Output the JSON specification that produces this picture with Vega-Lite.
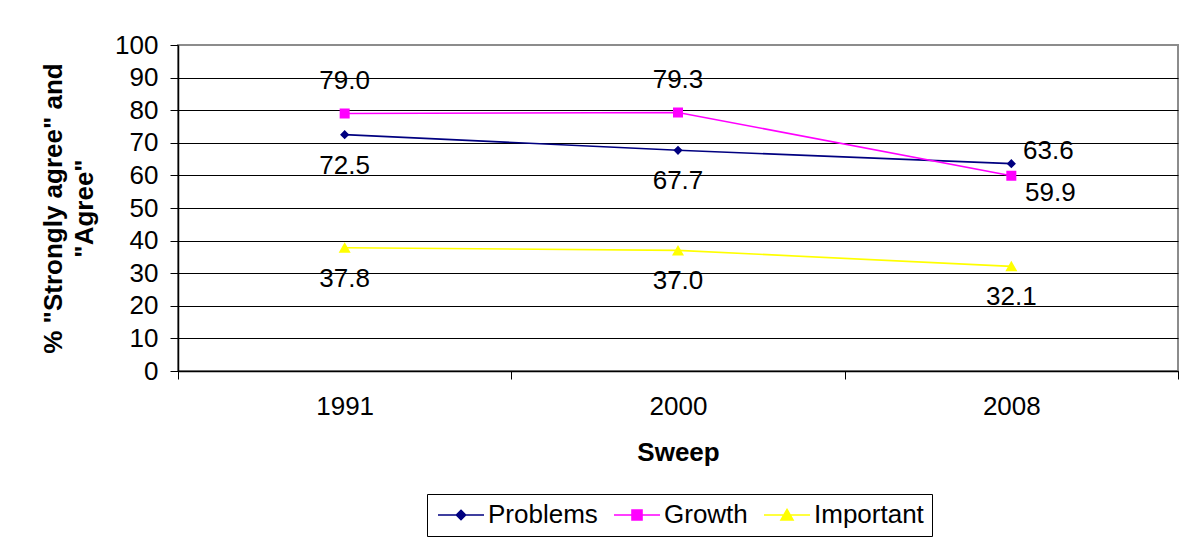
{
  "$schema": "https://vega.github.io/schema/vega-lite/v6.json",
  "autosize": {"type": "none"},
  "width": 1000,
  "height": 326,
  "padding": {"left": 178, "top": 45, "right": 11, "bottom": 170},
  "background": "white",
  "config": {
    "font": "Liberation Sans",
    "view": {"stroke": "#8c8c8c", "strokeWidth": 2},
    "axis": {"labelFont": "Liberation Sans", "titleFont": "Liberation Sans", "labelColor": "black", "titleColor": "black", "domainColor": "black", "tickColor": "black", "labelFontSize": 26, "titleFontSize": 26, "titleFontWeight": "bold"},
    "legend": {"labelFont": "Liberation Sans", "labelFontSize": 26, "labelColor": "black"}
  },
  "data": {
    "values": [
      {"sweep": "1991", "series": "Problems", "value": 72.5},
      {"sweep": "2000", "series": "Problems", "value": 67.7},
      {"sweep": "2008", "series": "Problems", "value": 63.6},
      {"sweep": "1991", "series": "Growth", "value": 79.0},
      {"sweep": "2000", "series": "Growth", "value": 79.3},
      {"sweep": "2008", "series": "Growth", "value": 59.9},
      {"sweep": "1991", "series": "Important", "value": 37.8},
      {"sweep": "2000", "series": "Important", "value": 37.0},
      {"sweep": "2008", "series": "Important", "value": 32.1}
    ]
  },
  "encoding": {
    "x": {
      "field": "sweep", "type": "ordinal",
      "scale": {"type": "band", "paddingInner": 0, "paddingOuter": 0},
      "axis": {"title": "Sweep", "labelAngle": 0, "tickBand": "extent", "tickSize": 8, "labelPadding": 14, "titlePadding": 20, "domainWidth": 1.5, "grid": false}
    },
    "y": {
      "field": "value", "type": "quantitative",
      "scale": {"domain": [0, 100], "nice": false},
      "axis": {
        "values": [0, 10, 20, 30, 40, 50, 60, 70, 80, 90, 100],
        "title": ["% \"Strongly agree\" and", "\"Agree\""],
        "titleLineHeight": 31,
        "titleX": -125, "titleY": 163, "titleAngle": -90, "titleAlign": "center", "titleBaseline": "middle",
        "grid": true,
        "gridColor": {"condition": {"test": "datum.value == 100", "value": "#8c8c8c"}, "value": "black"},
        "gridWidth": 1.2,
        "tickSize": 8, "labelPadding": 12, "domainWidth": 1.5
      }
    }
  },
  "layer": [
    {
      "mark": {"type": "line", "strokeWidth": 1.6},
      "encoding": {
        "color": {"field": "series", "type": "nominal", "scale": {"domain": ["Problems", "Growth", "Important"], "range": ["#000080", "#ff00ff", "#ffff00"]}}
      }
    },
    {
      "mark": {"type": "point", "filled": true, "opacity": 1, "strokeWidth": 0},
      "encoding": {
        "color": {
          "field": "series", "type": "nominal",
          "scale": {"domain": ["Problems", "Growth", "Important"], "range": ["#000080", "#ff00ff", "#ffff00"]},
          "legend": {
            "title": null, "orient": "none", "legendX": 249, "legendY": 449, "direction": "horizontal",
            "strokeColor": "black", "padding": 8, "symbolSize": 400, "symbolStrokeWidth": 1.6, "symbolOffset": 13,
            "columnPadding": 12, "labelOffset": 14, "symbolOpacity": 1
          }
        },
        "stroke": {"field": "series", "type": "nominal", "scale": {"domain": ["Problems", "Growth", "Important"], "range": ["#000080", "#ff00ff", "#ffff00"]}},
        "shape": {"field": "series", "type": "nominal", "scale": {"domain": ["Problems", "Growth", "Important"], "range": ["M-2.3,0H2.3M0,-0.46L0.46,0L0,0.46L-0.46,0Z", "M-2.3,0H2.3M-0.5,-0.5H0.5V0.5H-0.5Z", "M-2.3,0H2.3M0,-0.55L0.6,0.5H-0.6Z"]}},
        "size": {"value": 400}
      }
    },
    {
      "transform": [{"filter": "(datum.series == 'Problems' && datum.sweep != '2008') || datum.series == 'Important'"}],
      "mark": {"type": "text", "dy": 31, "fontSize": 26, "color": "black", "align": "center", "baseline": "middle"},
      "encoding": {"text": {"field": "value", "type": "quantitative", "format": ".1f"}}
    },
    {
      "transform": [{"filter": "datum.series == 'Growth' && datum.sweep != '2008'"}],
      "mark": {"type": "text", "dy": -32, "fontSize": 26, "color": "black", "align": "center", "baseline": "middle"},
      "encoding": {"text": {"field": "value", "type": "quantitative", "format": ".1f"}}
    },
    {
      "transform": [{"filter": "datum.series == 'Problems' && datum.sweep == '2008'"}],
      "mark": {"type": "text", "dx": 37, "dy": -13, "fontSize": 26, "color": "black", "align": "center", "baseline": "middle"},
      "encoding": {"text": {"field": "value", "type": "quantitative", "format": ".1f"}}
    },
    {
      "transform": [{"filter": "datum.series == 'Growth' && datum.sweep == '2008'"}],
      "mark": {"type": "text", "dx": 39, "dy": 17, "fontSize": 26, "color": "black", "align": "center", "baseline": "middle"},
      "encoding": {"text": {"field": "value", "type": "quantitative", "format": ".1f"}}
    }
  ]
}
